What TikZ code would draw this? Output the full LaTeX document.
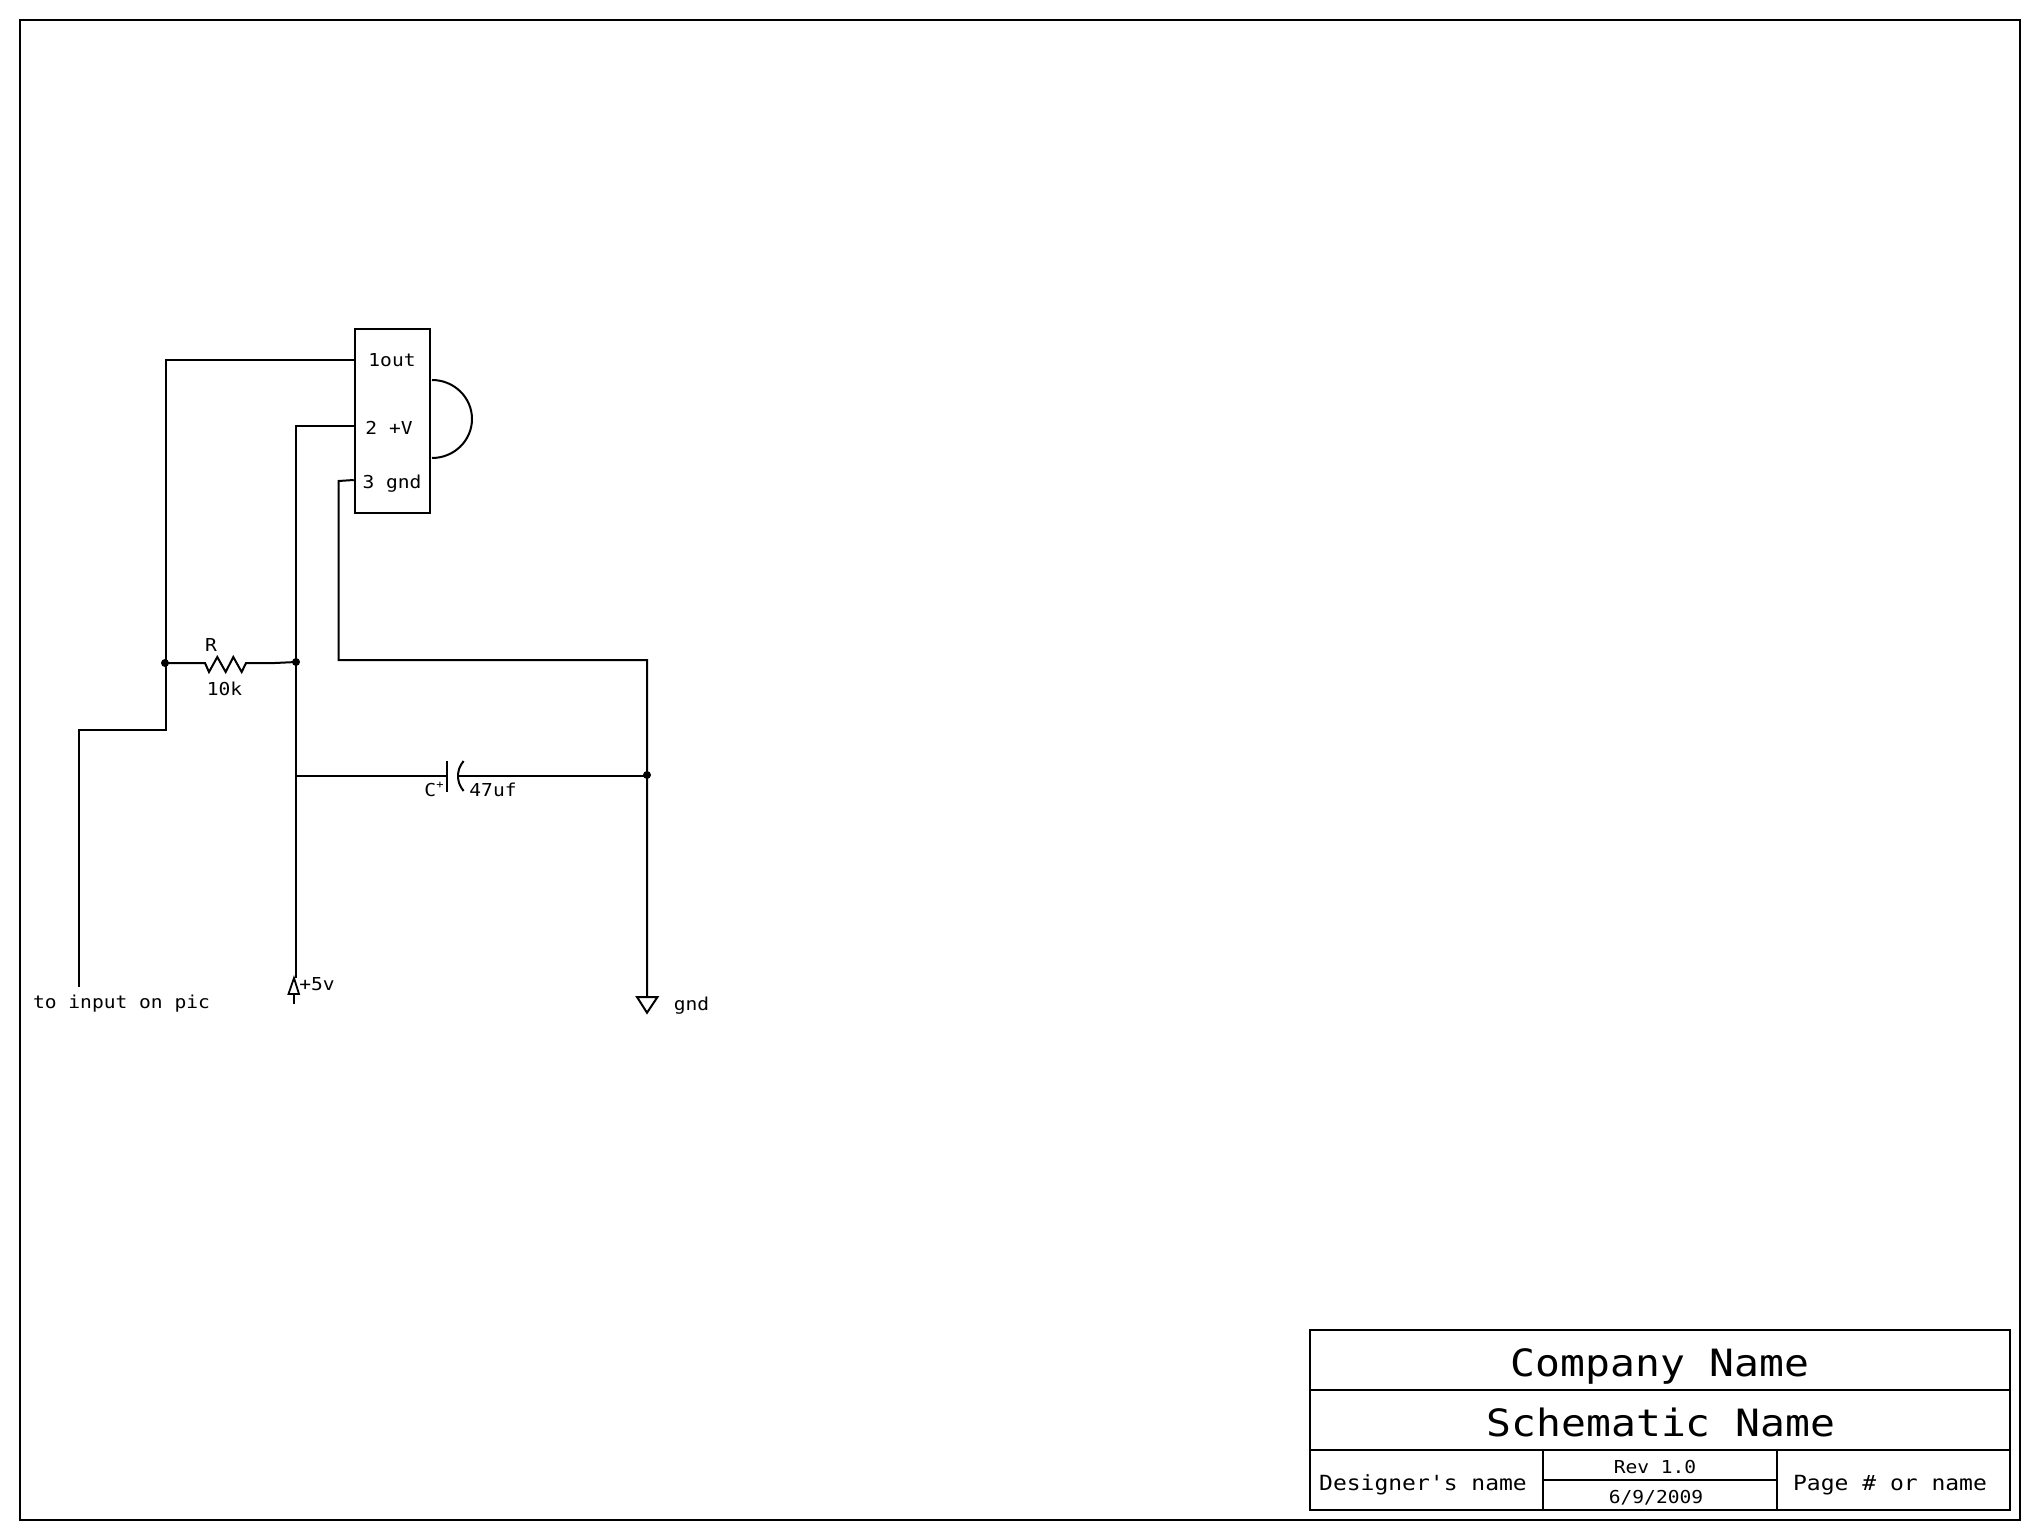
\documentclass[tikz,border=0pt]{standalone}
\usepackage{fontspec}
\newfontfamily\sch[FakeStretch=1.1]{DejaVu Sans Mono}
\begin{document}
\begin{tikzpicture}[x=0.5pt,y=-0.5pt,line width=1pt,line join=miter,
  lbl/.style={anchor=base,inner sep=0pt,outer sep=0pt,font=\sch\fontsize{8.9pt}{10pt}\selectfont},
  mid/.style={anchor=base,inner sep=0pt,outer sep=0pt,font=\sch\fontsize{10.45pt}{12pt}\selectfont},
  big/.style={anchor=base,inner sep=0pt,outer sep=0pt,font=\sch\fontsize{18.8pt}{20pt}\selectfont},
  icbox/.style={draw,rectangle,inner sep=0pt,minimum width=37.65pt,minimum height=91.85pt},
  junction/.style={circle,fill=black,draw=none,inner sep=0pt,minimum size=4pt}]
\useasboundingbox (0,0) rectangle (2040,1540);
\fill[white] (0,0) rectangle (2040,1540);
% sheet frame
\draw (20,20) rectangle (2020,1520);
% title block
\coordinate (tl) at (1310,1330); \coordinate (br) at (2010,1510);
\coordinate (r1l) at (1310,1390); \coordinate (r1r) at (2010,1390);
\coordinate (r2l) at (1310,1450); \coordinate (r2r) at (2010,1450);
\coordinate (v1t) at (1543,1450); \coordinate (v1b) at (1543,1510);
\coordinate (v2t) at (1777,1450); \coordinate (v2b) at (1777,1510);
\coordinate (hl) at (1543,1480); \coordinate (hr) at (1777,1480);
\draw (tl) rectangle (br);
\draw (r1l) -- (r1r); \draw (r2l) -- (r2r);
\draw (v1t) -- (v1b); \draw (v2t) -- (v2b); \draw (hl) -- (hr);
\node[big] (company) at (1660,1376) {Company Name};
\node[big] (schname) at (1661,1436) {Schematic Name};
\node[mid] (designer) at (1423,1490.5) {Designer's name};
\node[lbl] (rev) at (1655,1473) {Rev 1.0};
\node[lbl] (date) at (1656,1503) {6/9/2009};
\node[mid] (page) at (1890,1490.5) {Page \# or name};
% IC
\node[icbox] (ic) at (392.4,420.9) {};
\node[lbl] (t1) at (392,367) {1out};
\node[lbl] (t2) at (389,435) {2 +V};
\node[lbl] (t3) at (392,488) {3 gnd};
\coordinate (sa) at (432,380);
\draw (sa) arc[start angle=90,end angle=-90,x radius=20pt,y radius=19.5pt];
\coordinate (p1) at (ic.west |- 0,360);
\coordinate (p2) at (ic.west |- 0,426);
\coordinate (p3) at (ic.west |- 0,480);
% junctions
\node[junction] (j1) at (165,663) {};
\node[junction] (j2) at (296,662) {};
\node[junction] (j3) at (647,775) {};
% wires
\coordinate (a1) at (166,360); \coordinate (a2) at (166,730);
\coordinate (a3) at (79,730);  \coordinate (a4) at (79,987);
\draw (p1) -- (a1) -- (a2) -- (a3) -- (a4);
\coordinate (b1) at (296,426); \coordinate (b2) at (296,978);
\draw (p2) -- (b1) -- (b2);
\coordinate (c1) at (338.5,481); \coordinate (c2) at (338.5,660); \coordinate (c3) at (647,660);
\coordinate (gt) at (647,997);
\draw (p3) -- (c1) -- (c2) -- (c3) -- (gt);
% resistor
\coordinate (r0) at (205,663); \coordinate (r5) at (246,663); \coordinate (r6) at (275,663);
\draw (j1.center) -- (r0) -- (209,672) -- (217.3,657) -- (225.7,672) -- (233.3,657) -- (241.7,672) -- (r5) -- (r6) -- (j2.center);
\node[lbl] (rname) at (211,651) {R};
\node[lbl] (rval) at (224.5,695) {10k};
% capacitor
\coordinate (k1) at (296,776); \coordinate (k2) at (446.6,776);
\coordinate (k3) at (446.6,761); \coordinate (k4) at (446.6,792);
\coordinate (k5) at (458,776); \coordinate (k6) at (463.6,761); \coordinate (k7) at (463.6,791);
\coordinate (k8) at (647,776);
\draw (k1) -- (k2); \draw (k3) -- (k4);
\draw (k6) .. controls (459.5,766) and (458,771) .. (k5) .. controls (458,781) and (459.5,786) .. (k7);
\draw (k5) -- (k8);
\node[lbl] (cname) at (434,796) {C\raisebox{4pt}{\fontsize{5.5pt}{6pt}\selectfont +}};
\node[lbl] (cval) at (493,796) {47uf};
% +5v symbol
\coordinate (v0) at (294,978); \coordinate (v1) at (288.5,994); \coordinate (v2) at (299,994); \coordinate (v3) at (294,994); \coordinate (v4) at (294,1004);
\draw[line width=0.9pt] (v0) -- (v1) -- (v2) -- cycle;
\draw (v3) -- (v4);
\node[lbl] (vcc) at (317,990) {+5v};
% ground symbol
\coordinate (g1) at (637,997); \coordinate (g2) at (657.5,997); \coordinate (g3) at (647,1012.7);
\draw (g1) -- (g2) -- (g3) -- cycle;
\node[lbl] (gndt) at (691.5,1010) {gnd};
\node[lbl] (inp) at (121.5,1008) {to input on pic};
\end{tikzpicture}
\end{document}
